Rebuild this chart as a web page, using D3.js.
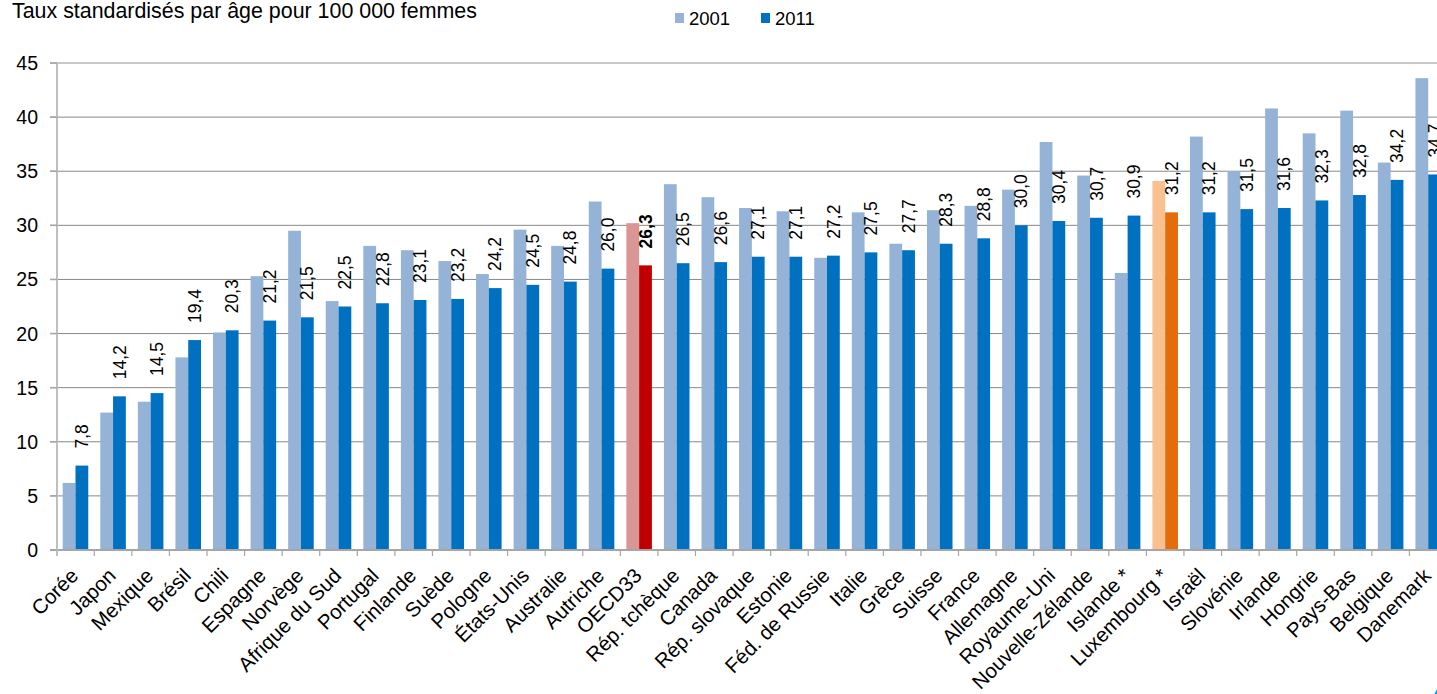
<!DOCTYPE html>
<html lang="fr">
<head>
<meta charset="utf-8">
<script src="https://cdn.jsdelivr.net/npm/d3@7"></script>
<style>
  html, body { margin: 0; padding: 0; background: #fff; overflow: hidden; }
  svg { display: block; font-family: "Liberation Sans", Arial, sans-serif; }
</style>
</head>
<body>
<svg id="chart" width="1437" height="694"></svg>
<script>
// Pays (ordre croissant du taux 2011)
const countries = [
  "Corée", "Japon", "Mexique", "Brésil", "Chili", "Espagne", "Norvège",
  "Afrique du Sud", "Portugal", "Finlande", "Suède", "Pologne", "États-Unis",
  "Australie", "Autriche", "OECD33", "Rép. tchèque", "Canada", "Rép. slovaque",
  "Estonie", "Féd. de Russie", "Italie", "Grèce", "Suisse", "France", "Allemagne",
  "Royaume-Uni", "Nouvelle-Zélande", "Islande *", "Luxembourg *", "Israël",
  "Slovénie", "Irlande", "Hongrie", "Pays-Bas", "Belgique", "Danemark"
];

// Taux standardisés par âge pour 100 000 femmes
const values2001 = [
  6.2, 12.7, 13.7, 17.8, 20.1, 25.3, 29.5, 23.0, 28.1, 27.7, 26.7, 25.5, 29.6,
  28.1, 32.2, 30.2, 33.8, 32.6, 31.6, 31.3, 27.0, 31.2, 28.3, 31.4, 31.8, 33.3,
  37.7, 34.6, 25.6, 34.1, 38.2, 35.0, 40.8, 38.5, 40.6, 35.8, 43.6
];
const values2011 = [
  7.8, 14.2, 14.5, 19.4, 20.3, 21.2, 21.5, 22.5, 22.8, 23.1, 23.2, 24.2, 24.5,
  24.8, 26.0, 26.3, 26.5, 26.6, 27.1, 27.1, 27.2, 27.5, 27.7, 28.3, 28.8, 30.0,
  30.4, 30.7, 30.9, 31.2, 31.2, 31.5, 31.6, 32.3, 32.8, 34.2, 34.7
];

const years = ["2001", "2011"];
const yTicks = [0, 5, 10, 15, 20, 25, 30, 35, 40, 45];
const titleText = "Taux standardisés par âge pour 100 000 femmes";

// Couleurs : série normale, moyenne OCDE, Luxembourg
const palette = {
  normal: ["#95B3D7", "#0070C0"],
  "OECD33": ["#DA9694", "#C00000"],
  "Luxembourg *": ["#FAC090", "#E46C0A"]
};
const colorsFor = name => palette[name] || palette.normal;

const svg = d3.select("#chart");

const x = d3.scaleBand().domain(countries).range([56.7, 1447]).padding(0);
const y = d3.scaleLinear().domain([0, 45]).range([550, 63]);

const step = x.bandwidth();
const barW = step * 0.34;
const groupOffset = (step - 2 * barW) / 2;

// Quadrillage horizontal
svg.append("g")
  .selectAll("line")
  .data(yTicks.filter(t => t > 0))
  .join("line")
  .attr("x1", 50).attr("x2", 1437)
  .attr("y1", d => y(d)).attr("y2", d => y(d))
  .attr("stroke", d => d === 45 ? "#C8C8C8" : "#888888")
  .attr("stroke-width", d => d === 45 ? 2 : 1);

// Barres
const groups = svg.append("g")
  .selectAll("g")
  .data(countries.map((c, i) => ({ c, v: [values2001[i], values2011[i]] })))
  .join("g")
  .attr("transform", d => `translate(${x(d.c) + groupOffset},0)`);

groups.selectAll("rect")
  .data(d => d.v.map((v, k) => ({ c: d.c, v, k })))
  .join("rect")
  .attr("x", d => d.k * barW)
  .attr("width", barW)
  .attr("y", d => y(d.v))
  .attr("height", d => y(0) - y(d.v))
  .attr("fill", d => colorsFor(d.c)[d.k]);

// Étiquettes de valeur 2011
groups.append("text")
  .attr("transform", d => `translate(${barW * 1.5},${y(d.v[1]) - 17}) rotate(-90)`)
  .attr("dy", "0.35em")
  .attr("font-size", 17.5)
  .attr("font-weight", d => d.c === "OECD33" ? "bold" : "normal")
  .attr("fill", "#000")
  .text(d => d3.format(".1f")(d.v[1]).replace(".", ","));

// Axe des abscisses
const xAxis = svg.append("g");
xAxis.append("line")
  .attr("x1", 50).attr("x2", 1437)
  .attr("y1", y(0)).attr("y2", y(0))
  .attr("stroke", "#A6A6A6").attr("stroke-width", 2);
xAxis.selectAll("line.tick")
  .data(d3.range(countries.length + 1))
  .join("line")
  .attr("class", "tick")
  .attr("x1", i => 56.7 + i * step).attr("x2", i => 56.7 + i * step)
  .attr("y1", y(0)).attr("y2", y(0) + 6)
  .attr("stroke", "#A6A6A6").attr("stroke-width", 1.2);
xAxis.selectAll("text")
  .data(countries)
  .join("text")
  .attr("transform", d => `translate(${x(d) + step / 2 + 4},577) rotate(-45)`)
  .attr("text-anchor", "end")
  .attr("font-size", 20.5)
  .attr("fill", "#000")
  .text(d => d);

// Axe des ordonnées
const yAxis = svg.append("g");
yAxis.append("line")
  .attr("x1", 57).attr("x2", 57)
  .attr("y1", y(45)).attr("y2", y(0) + 6)
  .attr("stroke", "#BFBFBF").attr("stroke-width", 2);
yAxis.selectAll("line.tick")
  .data(yTicks)
  .join("line")
  .attr("class", "tick")
  .attr("x1", 50).attr("x2", 57)
  .attr("y1", d => y(d)).attr("y2", d => y(d))
  .attr("stroke", "#A6A6A6").attr("stroke-width", 1.5);
yAxis.selectAll("text")
  .data(yTicks)
  .join("text")
  .attr("x", 38)
  .attr("y", d => y(d))
  .attr("dy", "0.36em")
  .attr("text-anchor", "end")
  .attr("font-size", 19.5)
  .attr("fill", "#000")
  .text(d => d);

// Titre de l'axe
svg.append("text")
  .attr("x", 12).attr("y", 18)
  .attr("font-size", 21.4)
  .attr("fill", "#000")
  .text(titleText);

// Légende
const legend = svg.append("g");
const legendX = [675, 761];
years.forEach((yr, k) => {
  legend.append("rect")
    .attr("x", legendX[k]).attr("y", 13)
    .attr("width", 9).attr("height", 10)
    .attr("fill", palette.normal[k]);
  legend.append("text")
    .attr("x", legendX[k] + 14).attr("y", 25)
    .attr("font-size", 18.5)
    .attr("fill", "#000")
    .text(yr);
});

// Bord du logo en bas à droite
svg.append("circle")
  .attr("cx", 1452).attr("cy", 700)
  .attr("r", 17)
  .attr("fill", "none")
  .attr("stroke", "#1E9FE0")
  .attr("stroke-width", 3);
</script>
</body>
</html>
